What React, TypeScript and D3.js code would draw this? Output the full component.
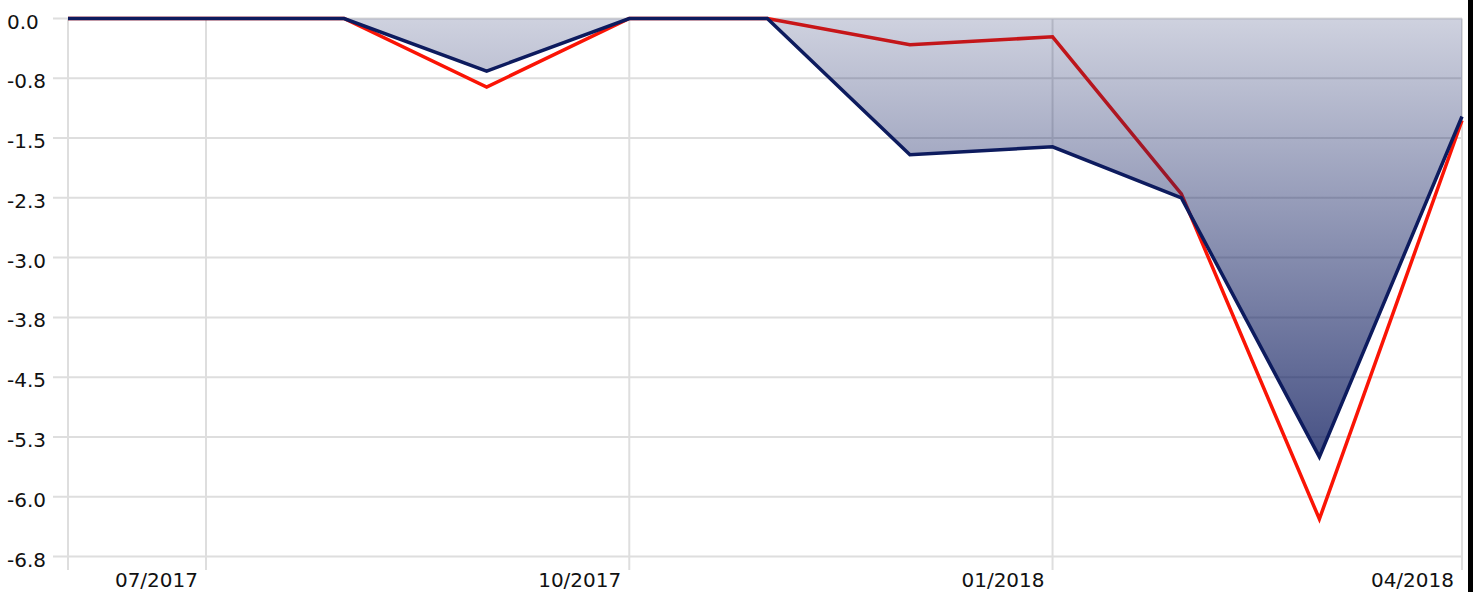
import React from "react";
import * as d3 from "d3";

// ---- data ----
const dates: string[] = [
  "2017-06-01", "2017-07-01", "2017-07-31", "2017-08-31", "2017-10-01", "2017-10-31",
  "2017-12-01", "2018-01-01", "2018-01-29", "2018-02-28", "2018-03-31",
];
const portfolio: number[] = [0, 0, 0, -0.66, 0, 0, -1.71, -1.61, -2.25, -5.5, -1.23];
const benchmark: number[] = [0, 0, 0, -0.86, 0, 0, -0.33, -0.23, -2.2, -6.28, -1.28];

const yTickValues: number[] = [0, -0.75, -1.5, -2.25, -3, -3.75, -4.5, -5.25, -6, -6.75];
const yTickLabels: string[] = ["0.0", "-0.8", "-1.5", "-2.3", "-3.0", "-3.8", "-4.5", "-5.3", "-6.0", "-6.8"];
const xTickDates: string[] = ["2017-07-01", "2017-10-01", "2018-01-01", "2018-04-01"];
const xTickLabels: string[] = ["07/2017", "10/2017", "01/2018", "04/2018"];

const W = 1473;
const H = 592;
const NAVY = "#0d1b5e";
const RED = "#fa1405";
const GRID = "#dedede";
const FONT = "'DejaVu Sans', Verdana, sans-serif";

const parse = d3.timeParse("%Y-%m-%d");

export default function App() {
  const pts = dates.map((d, i) => ({ date: parse(d) as Date, p: portfolio[i], b: benchmark[i] }));
  const left = 68;
  const right = 1462;
  const x = d3
    .scaleTime()
    .domain([pts[0].date, pts[pts.length - 1].date])
    .range([left, right]);
  const y = d3.scaleLinear().domain([-6.75, 0]).range([556.5, 18.5]);

  const lineP = d3
    .line<any>()
    .x((d) => x(d.date))
    .y((d) => y(d.p));
  const lineB = d3
    .line<any>()
    .x((d) => x(d.date))
    .y((d) => y(d.b));
  const area = d3
    .area<any>()
    .x((d) => x(d.date))
    .y0(() => y(0))
    .y1((d) => y(d.p));

  const minP = d3.min(portfolio) as number;
  const vGrid = [pts[0].date, ...xTickDates.map((d) => parse(d) as Date), pts[pts.length - 1].date];

  return (
    <svg
      width={W}
      height={H}
      style={{ position: "absolute", left: 0, top: 0, display: "block", background: "#fff" }}
    >
      <defs>
        <linearGradient id="ddGrad" gradientUnits="userSpaceOnUse" x1={0} x2={0} y1={y(0)} y2={y(minP)}>
          <stop offset="0%" stopColor={NAVY} stopOpacity={0.2} />
          <stop offset="100%" stopColor={NAVY} stopOpacity={0.76} />
        </linearGradient>
      </defs>

      {/* horizontal grid */}
      {yTickValues.map((v) => (
        <line key={"h" + v} x1={53} x2={right} y1={y(v)} y2={y(v)} stroke={GRID} strokeWidth={2} />
      ))}
      {/* vertical grid */}
      {vGrid
        .filter((d) => x(d) <= right + 0.5)
        .map((d, i) => (
          <line key={"v" + i} x1={x(d)} x2={x(d)} y1={y(0)} y2={570} stroke={GRID} strokeWidth={2} />
        ))}

      {/* benchmark line */}
      <path d={lineB(pts) as string} fill="none" stroke={RED} strokeWidth={3.5} strokeLinejoin="miter" />
      {/* drawdown area */}
      <path d={area(pts) as string} fill="url(#ddGrad)" stroke="none" />
      {/* portfolio line */}
      <path d={lineP(pts) as string} fill="none" stroke={NAVY} strokeWidth={3.5} strokeLinejoin="miter" />

      {/* y labels */}
      {yTickValues.map((v, i) => (
        <text key={"yl" + v} x={7} y={y(v) + 10} fontFamily={FONT} fontSize={20} fill="#111">
          {yTickLabels[i]}
        </text>
      ))}
      {/* x labels */}
      {xTickDates.map((d, i) => {
        const px = Math.min(x(parse(d) as Date), right);
        return (
          <text key={"xl" + d} x={px - 8} y={587} textAnchor="end" fontFamily={FONT} fontSize={20} fill="#111">
            {xTickLabels[i]}
          </text>
        );
      })}

      <rect x={1468} y={0} width={5} height={H} fill="#000" />
    </svg>
  );
}
